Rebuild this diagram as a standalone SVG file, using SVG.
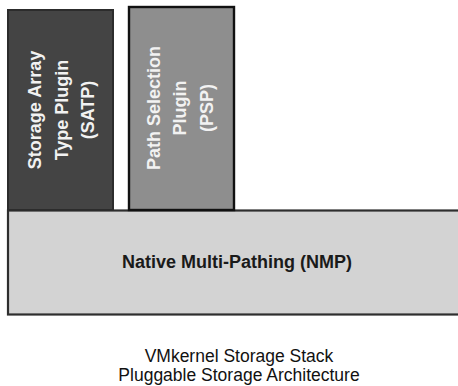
<svg xmlns="http://www.w3.org/2000/svg" width="458" height="386" viewBox="0 0 458 386">
<style>
.lbl{font-family:"Liberation Sans",Arial,sans-serif;font-weight:bold;font-size:18px;text-anchor:middle}
.cap{font-family:"Liberation Sans",Arial,sans-serif;font-size:17.5px;text-anchor:middle;fill:#111}
</style>
<rect width="458" height="386" fill="#ffffff"/>
<g id="nmp">
<rect x="8" y="210.5" width="462" height="104" fill="#d3d3d3" stroke="#2e2e2e" stroke-width="2.2"/>
<text class="lbl" x="237" y="268" fill="#1a1a1a">Native Multi-Pathing (NMP)</text>
</g>
<g id="satp">
<rect x="8" y="10" width="105" height="200" fill="#444444" stroke="#2c2c2c" stroke-width="2"/>
<text class="lbl" fill="#f2f2f2" transform="rotate(-90)"><tspan x="-110" y="41">Storage Array</tspan><tspan x="-110" y="67.5">Type Plugin</tspan><tspan x="-110" y="94">(SATP)</tspan></text>
</g>
<g id="psp">
<rect x="129" y="7" width="105" height="203" fill="#8e8e8e" stroke="#111111" stroke-width="2.4"/>
<text class="lbl" fill="#f2f2f2" transform="rotate(-90)"><tspan x="-108" y="159.5">Path Selection</tspan><tspan x="-108" y="186">Plugin</tspan><tspan x="-108" y="212.5">(PSP)</tspan></text>
</g>
<g id="caption">
<text class="cap" x="239" y="362">VMkernel Storage Stack</text>
<text class="cap" x="239" y="380.5">Pluggable Storage Architecture</text>
</g>
</svg>
